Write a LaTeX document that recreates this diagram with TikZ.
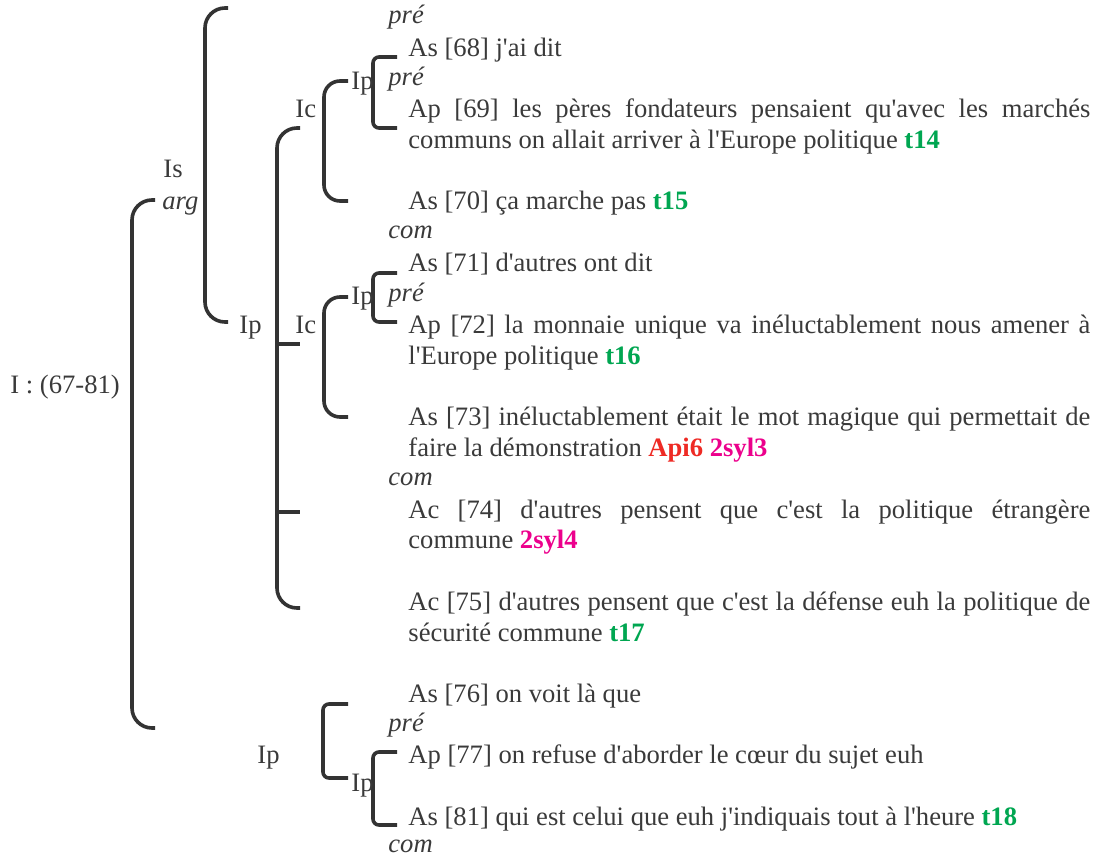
\documentclass[tikz,border=0pt]{standalone}
\usepackage{fontspec}
\setmainfont{Liberation Serif}[Ligatures=TeXOff]
\usepackage{xcolor}
\usepackage{tikz}
\definecolor{ink}{HTML}{3A3A3A}
\definecolor{lne}{HTML}{333333}
\definecolor{grn}{HTML}{00A651}
\definecolor{rd}{HTML}{EE2A24}
\definecolor{mag}{HTML}{EC008C}
\newcommand{\tgr}[1]{\textcolor{grn}{\textbf{#1}}}
\newcommand{\tmg}[1]{\textcolor{mag}{\textbf{#1}}}
\newcommand{\trd}[1]{\textcolor{rd}{\textbf{#1}}}
\newcommand{\jst}[1]{\makebox[341pt][s]{#1}}

\begin{document}
\begin{tikzpicture}[x=0.5pt,y=-0.5pt,
  lbl/.style={anchor=base west, inner sep=0pt, text=ink, font=\fontsize{13.3}{15.5}\selectfont},
  fn/.style={lbl, font=\fontsize{13.3}{15.5}\selectfont\itshape},
  brk/.style={draw=lne, line width=1.8pt, rounded corners=10pt},
  sbrk/.style={brk, rounded corners=3pt}]
  \useasboundingbox (0,0) rectangle (1101,855);

  % Brackets of the tree
  \draw[brk] (155,200) -- (132,200) -- (132,728) -- (155,728);
  \draw[brk] (228,8) -- (205,8) -- (205,322) -- (228,322);
  \draw[brk] (300,128) -- (277,128) -- (277,608) -- (300,608);
  \draw[lne, line width=1.8pt] (277,344) -- (300,344);
  \draw[lne, line width=1.8pt] (277,512) -- (300,512);
  \draw[brk, rounded corners=8pt] (348,81) -- (324,81) -- (324,201) -- (348,201);
  \draw[brk, rounded corners=8pt] (348,297) -- (324,297) -- (324,417) -- (348,417);
  \draw[sbrk] (397,57) -- (373,57) -- (373,128) -- (397,128);
  \draw[sbrk] (397,273) -- (373,273) -- (373,322) -- (397,322);
  \draw[sbrk] (348,704) -- (323,704) -- (323,778) -- (348,778);
  \draw[sbrk] (397,752) -- (373,752) -- (373,825) -- (397,825);

  % Labels of the units
  \node[lbl] (lI) at (10,393) {I : (67-81)};
  \node[lbl] (lIs) at (163,178) {Is};
  \node[fn] (larg) at (162,210) {arg};
  \node[lbl] (lIpa) at (239,333) {Ip};
  \node[lbl] (lIca) at (295,118) {Ic};
  \node[lbl] (lIpb) at (351,90) {Ip};
  \node[lbl] (lIcb) at (295,333) {Ic};
  \node[lbl] (lIpc) at (351,305) {Ip};
  \node[lbl] (lIpd) at (257,763) {Ip};
  \node[lbl] (lIpe) at (351,791) {Ip};

  % Text of the turns
  \node[fn] (pre1) at (388,24) {pré};
  \node[lbl] (as68) at (408,57) {As [68] j'ai dit};
  \node[fn] (pre2) at (388,86) {pré};
  \node[lbl] (ap69a) at (408,118) {\jst{Ap [69] les pères fondateurs pensaient qu'avec les marchés}};
  \node[lbl] (ap69b) at (408,149) {communs on allait arriver à l'Europe politique \tgr{t14}};
  \node[lbl] (as70) at (408,210) {As [70] ça marche pas \tgr{t15}};
  \node[fn] (com1) at (388,239) {com};
  \node[lbl] (as71) at (408,272) {As [71] d'autres ont dit};
  \node[fn] (pre3) at (388,301) {pré};
  \node[lbl] (ap72a) at (408,333) {\jst{Ap [72] la monnaie unique va inéluctablement nous amener à}};
  \node[lbl] (ap72b) at (408,364) {l'Europe politique \tgr{t16}};
  \node[lbl] (as73a) at (408,425) {\jst{As [73] inéluctablement était le mot magique qui permettait de}};
  \node[lbl] (as73b) at (408,456) {faire la démonstration \trd{Api6} \tmg{2syl3}};
  \node[fn] (com2) at (388,485) {com};
  \node[lbl] (ac74a) at (408,518) {\jst{Ac [74] d'autres pensent que c'est la politique étrangère}};
  \node[lbl] (ac74b) at (408,548) {commune \tmg{2syl4}};
  \node[lbl] (ac75a) at (408,610) {\jst{Ac [75] d'autres pensent que c'est la défense euh la politique de}};
  \node[lbl] (ac75b) at (408,641) {sécurité commune \tgr{t17}};
  \node[lbl] (as76) at (408,702) {As [76] on voit là que};
  \node[fn] (pre4) at (388,731) {pré};
  \node[lbl] (ap77) at (408,763) {Ap [77] on refuse d'aborder le cœur du sujet euh};
  \node[lbl] (as81) at (408,825) {As [81] qui est celui que euh j'indiquais tout à l'heure \tgr{t18}};
  \node[fn] (com3) at (388,852) {com};
\end{tikzpicture}
\end{document}
